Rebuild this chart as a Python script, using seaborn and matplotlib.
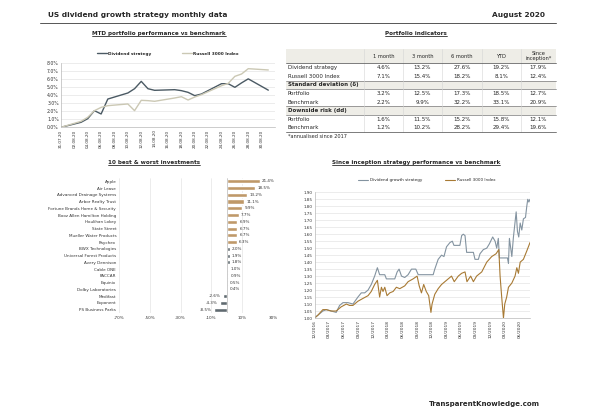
import numpy as np
import pandas as pd
import matplotlib
matplotlib.use('Agg')
import matplotlib.pyplot as plt
import matplotlib.dates as mdates
import matplotlib.ticker as mticker
from matplotlib.patches import Rectangle
import seaborn as sns

W, H = 590, 417

# ---------------- data ----------------
mtd_dates = ['2020-07-31', '2020-08-03', '2020-08-04', '2020-08-05', '2020-08-06', '2020-08-07',
             '2020-08-10', '2020-08-11', '2020-08-12', '2020-08-13', '2020-08-14', '2020-08-17',
             '2020-08-18', '2020-08-19', '2020-08-20', '2020-08-21', '2020-08-24', '2020-08-25',
             '2020-08-26', '2020-08-27', '2020-08-28', '2020-08-31']
mtd_strategy = [0.0, 0.62, 1.07, 2.06, 1.65, 3.5, 4.25, 4.78, 5.69, 4.78, 4.58, 4.66,
                4.54, 4.33, 3.92, 4.12, 5.4, 5.4, 4.95, 5.5, 6.0, 4.6]
mtd_russell = [0.0, 0.74, 1.24, 2.06, 2.47, 2.68, 2.89, 2.06, 3.34, 3.30, 3.22, 3.63,
               3.79, 3.38, 3.75, 4.04, 5.15, 5.44, 6.31, 6.6, 7.26, 7.1]

ind_cols = ['1 month', '3 month', '6 month', 'YTD', 'Since\ninception*']
ind_labels = ['Dividend strategy', 'Russell 3000 Index', 'Standard deviation (δ)', 'Portfolio',
              'Benchmark', 'Downside risk (dd)', 'Portfolio', 'Benchmark']
ind_strategy = [4.6, 13.2, 27.6, 19.2, 17.9]
ind_russell = [7.1, 15.4, 18.2, 8.1, 12.4]
ind_sd_portfolio = [3.2, 12.5, 17.3, 18.5, 12.7]
ind_sd_benchmark = [2.2, 9.9, 32.2, 33.1, 20.9]
ind_dd_portfolio = [1.6, 11.5, 15.2, 15.8, 12.1]
ind_dd_benchmark = [1.2, 10.2, 28.2, 29.4, 19.6]
ind_values = [ind_strategy, ind_russell, None, ind_sd_portfolio, ind_sd_benchmark,
              None, ind_dd_portfolio, ind_dd_benchmark]

bar_names = ['Apple', 'Air Lease', 'Advanced Drainage Systems', 'Arbor Realty Trust',
             'Fortune Brands Home & Security', 'Booz Allen Hamilton Holding', 'Houlihan Lokey',
             'State Street', 'Mueller Water Products', 'Paychex', 'BWX Technologies',
             'Universal Forest Products', 'Avery Dennison', 'Cable ONE', 'PACCAR', 'Equinix',
             'Dolby Laboratories', 'Medifast', 'Exponent', 'PS Business Parks']
bar_returns = [21.4, 18.5, 13.2, 11.1, 9.9, 7.7, 6.9, 6.7, 6.7, 6.3, 2.0, 1.9, 1.8, 1.0,
               0.9, 0.5, 0.4, -2.6, -4.3, -8.5]
bar_group = ['best'] * 10 + ['rest'] * 10

si_strategy_dates = ['2016-12-30', '2017-01-20', '2017-02-20', '2017-03-13', '2017-04-13', '2017-05-14',
                     '2017-06-04', '2017-06-25', '2017-07-26', '2017-08-26', '2017-09-26', '2017-10-17',
                     '2017-11-07', '2017-11-28', '2017-12-18', '2018-01-08', '2018-01-25', '2018-02-08',
                     '2018-03-12', '2018-03-22', '2018-05-13', '2018-05-28', '2018-06-09', '2018-06-24',
                     '2018-07-14', '2018-08-04', '2018-08-25', '2018-09-21', '2018-10-06', '2019-01-07',
                     '2019-01-17', '2019-02-07', '2019-02-28', '2019-03-15', '2019-03-31', '2019-04-21',
                     '2019-05-06', '2019-05-16', '2019-06-22', '2019-07-03', '2019-07-13', '2019-07-24',
                     '2019-08-03', '2019-09-14', '2019-09-24', '2019-10-15', '2019-10-25', '2019-11-15',
                     '2019-12-06', '2019-12-22', '2020-01-12', '2020-01-27', '2020-02-06', '2020-02-16',
                     '2020-02-23', '2020-04-13', '2020-04-19', '2020-04-25', '2020-05-10', '2020-05-20',
                     '2020-06-06', '2020-06-14', '2020-06-22', '2020-07-01', '2020-07-11', '2020-07-21',
                     '2020-08-03', '2020-08-11', '2020-08-17', '2020-08-24', '2020-08-31']
si_strategy = [1.00, 1.02, 1.05, 1.06, 1.05, 1.04, 1.09, 1.11, 1.11, 1.10, 1.15, 1.18,
               1.18, 1.20, 1.24, 1.30, 1.36, 1.31, 1.31, 1.28, 1.28, 1.33, 1.35, 1.30,
               1.29, 1.31, 1.35, 1.35, 1.31, 1.31, 1.35, 1.42, 1.45, 1.44, 1.51, 1.54,
               1.55, 1.52, 1.52, 1.59, 1.60, 1.59, 1.47, 1.47, 1.42, 1.42, 1.46, 1.49,
               1.50, 1.53, 1.58, 1.55, 1.50, 1.57, 1.43, 1.43, 1.39, 1.57, 1.44, 1.58,
               1.76, 1.62, 1.58, 1.68, 1.63, 1.71, 1.72, 1.80, 1.85, 1.83, 1.85]

si_russell_dates = ['2016-12-30', '2017-01-20', '2017-02-20', '2017-03-13', '2017-04-13', '2017-05-14',
                    '2017-06-14', '2017-07-16', '2017-08-05', '2017-08-26', '2017-09-26', '2017-10-27',
                    '2017-11-28', '2017-12-18', '2018-01-08', '2018-01-25', '2018-02-08', '2018-02-19',
                    '2018-03-01', '2018-03-12', '2018-03-26', '2018-04-12', '2018-05-03', '2018-05-23',
                    '2018-06-13', '2018-07-14', '2018-08-04', '2018-09-04', '2018-09-29', '2018-10-12',
                    '2018-10-26', '2018-11-09', '2018-11-25', '2018-12-10', '2018-12-24', '2018-12-31',
                    '2019-01-17', '2019-02-07', '2019-02-28', '2019-03-31', '2019-05-01', '2019-05-18',
                    '2019-06-12', '2019-07-03', '2019-07-24', '2019-08-05', '2019-08-28', '2019-09-14',
                    '2019-10-04', '2019-11-05', '2019-12-06', '2020-01-06', '2020-02-02', '2020-02-19',
                    '2020-02-27', '2020-03-08', '2020-03-19', '2020-03-27', '2020-04-08', '2020-04-19',
                    '2020-05-10', '2020-05-30', '2020-06-10', '2020-06-20', '2020-07-01', '2020-07-21',
                    '2020-08-11', '2020-08-31']
si_russell = [1.00, 1.02, 1.06, 1.06, 1.05, 1.05, 1.08, 1.10, 1.09, 1.09, 1.12, 1.14,
              1.16, 1.19, 1.24, 1.27, 1.15, 1.22, 1.19, 1.22, 1.16, 1.18, 1.19, 1.22,
              1.21, 1.23, 1.26, 1.28, 1.30, 1.23, 1.18, 1.24, 1.19, 1.16, 1.04, 1.10,
              1.17, 1.21, 1.24, 1.27, 1.30, 1.26, 1.30, 1.32, 1.33, 1.26, 1.30, 1.26,
              1.30, 1.33, 1.40, 1.44, 1.46, 1.49, 1.30, 1.15, 1.00, 1.10, 1.15, 1.22,
              1.25, 1.30, 1.36, 1.32, 1.40, 1.42, 1.48, 1.54]

# ---------------- style ----------------
sns.set_style('white')
plt.rcParams['font.family'] = ['DejaVu Sans']

DARK = '#4b5a64'
LIGHT = '#cbc8b4'
SI_GREY = '#8393a0'
SI_BROWN = '#a87a34'
TAN = '#cd9a5b'
SLATE = '#5d6a73'
GRID = '#dedede'
AXC = '#b8b8b8'
SHADE = '#eeede7'

fig = plt.figure(figsize=(W / 100, H / 100), dpi=100)

cv = fig.add_axes([0, 0, 1, 1])
cv.set_xlim(0, W)
cv.set_ylim(H, 0)
cv.axis('off')


def px_axes(l, t, r, b):
    return fig.add_axes([l / W, 1 - b / H, (r - l) / W, (b - t) / H])


def clean(ax):
    for s in ['top', 'right']:
        ax.spines[s].set_visible(False)
    for s in ['left', 'bottom']:
        ax.spines[s].set_color(AXC)
        ax.spines[s].set_linewidth(0.5)
    ax.tick_params(length=0, pad=1.5, colors='#333333')


# header
cv.text(48, 15, 'US dividend growth strategy monthly data', fontsize=5.3, fontweight='bold', va='center')
cv.text(545, 15, 'August 2020', fontsize=5.3, fontweight='bold', va='center', ha='right')
cv.plot([40, 556], [23, 23], color='#555555', lw=0.7)
cv.text(540, 404, 'TransparentKnowledge.com', fontsize=5, fontweight='bold', va='center', ha='right')

titles = []
for (tx, ty, s) in [(159, 33, 'MTD portfolio performance vs benchmark'),
                    (416, 33, 'Portfolio indicators'),
                    (154, 162.5, '10 best & worst investments'),
                    (416, 162, 'Since inception strategy performance vs benchmark')]:
    titles.append(cv.text(tx, ty, s, fontsize=4.1, fontweight='bold', ha='center', va='center'))

# ---------------- MTD chart ----------------
ax1 = px_axes(61, 62.7, 275, 127.3)
mtd = pd.DataFrame({'date': pd.to_datetime(mtd_dates), 'strategy': mtd_strategy, 'russell': mtd_russell})
sns.lineplot(data=mtd, x='date', y='strategy', ax=ax1, color=DARK, lw=1.0, label='Dividend strategy')
sns.lineplot(data=mtd, x='date', y='russell', ax=ax1, color=LIGHT, lw=1.0, label='Russell 3000 Index')
ax1.set_ylim(0, 8)
ax1.set_yticks(np.arange(0, 9, 1))
ax1.yaxis.set_major_formatter(mticker.FuncFormatter(lambda v, p: f'{v:.1f}%'))
ax1.set_xlim(pd.Timestamp('2020-07-31'), pd.Timestamp('2020-09-01'))
ax1.set_xticks(pd.date_range('2020-07-31', '2020-08-30', freq='2D'))
ax1.xaxis.set_major_formatter(mdates.DateFormatter('%d.%m.%y'))
ax1.tick_params(axis='x', labelrotation=90, labelsize=3)
ax1.tick_params(axis='y', labelsize=3.3)
ax1.grid(axis='y', color=GRID, lw=0.4)
ax1.set_xlabel('')
ax1.set_ylabel('')
clean(ax1)
ax1.legend(loc='lower center', bbox_to_anchor=(0.5, 1.05), ncol=2, frameon=False,
           handlelength=2.3, handletextpad=0.3, columnspacing=7,
           prop={'size': 3.1, 'weight': 'bold'})

# ---------------- table ----------------
col_edges = [286, 364, 403, 442, 482, 521, 556]
hdr_top, hdr_bot = 49, 63.3
row_h = 8.6
TFS = 4.0
cv.add_patch(Rectangle((col_edges[0], hdr_top), col_edges[-1] - col_edges[0], hdr_bot - hdr_top,
                       color=SHADE, lw=0))
for i, lab in enumerate(ind_cols):
    cx = (col_edges[i + 1] + col_edges[i + 2]) / 2
    cv.text(cx, (hdr_top + hdr_bot) / 2, lab, ha='center', va='center', fontsize=3.7, linespacing=1.05)

for j, (lab, vals) in enumerate(zip(ind_labels, ind_values)):
    top = hdr_bot + row_h * j
    yc = top + row_h / 2
    if vals is None:
        cv.add_patch(Rectangle((col_edges[0], top), col_edges[-1] - col_edges[0], row_h,
                               color=SHADE, lw=0))
        cv.text(288, yc, lab, fontsize=TFS, fontweight='bold', va='center')
        cv.plot([col_edges[0], col_edges[-1]], [top, top], color='#777777', lw=0.5)
        cv.plot([col_edges[0], col_edges[-1]], [top + row_h, top + row_h], color='#777777', lw=0.5)
    else:
        cv.text(288, yc, lab, fontsize=TFS, va='center')
        for i, v in enumerate(vals):
            cx = (col_edges[i + 1] + col_edges[i + 2]) / 2
            cv.text(cx, yc, f'{v:.1f}%', fontsize=TFS, ha='center', va='center')

tbl_bot = hdr_bot + row_h * len(ind_labels)
for x in col_edges[1:-1]:
    cv.plot([x, x], [hdr_top, tbl_bot], color='#d4d4d4', lw=0.4)
cv.plot([col_edges[0], col_edges[-1]], [hdr_bot, hdr_bot], color='#666666', lw=0.6)
cv.plot([col_edges[0], col_edges[-1]], [tbl_bot, tbl_bot], color='#666666', lw=0.6)
cv.text(288, tbl_bot + 4.3, '*annualised since 2017', fontsize=3.6, va='center')

# ---------------- best / worst bars ----------------
ax2 = px_axes(119, 177.9, 273, 313.1)
bars = pd.DataFrame({'name': bar_names, 'ret': bar_returns, 'group': bar_group})
sns.barplot(data=bars, x='ret', y='name', hue='group', palette={'best': TAN, 'rest': SLATE},
            dodge=False, legend=False, width=0.62, orient='h', ax=ax2)
ax2.set_xlim(-70, 30)
ax2.set_xticks([-70, -50, -30, -10, 10, 30])
ax2.set_xticklabels([f'{t}%' for t in [-70, -50, -30, -10, 10, 30]])
ax2.grid(axis='x', color=GRID, lw=0.4)
ax2.set_axisbelow(True)
ax2.axvline(0, color=AXC, lw=0.5)
for s in ax2.spines.values():
    s.set_visible(False)
ax2.tick_params(length=0, pad=2, colors='#333333')
ax2.tick_params(axis='y', labelsize=3.0)
ax2.tick_params(axis='x', labelsize=3.0)
ax2.set_xlabel('')
ax2.set_ylabel('')
for k, v in enumerate(bar_returns):
    if v >= 0:
        ax2.text(v + 1.5, k, f'{v:.1f}%', fontsize=3.0, va='center', ha='left', color='#333333')
    else:
        ax2.text(v - 1.5, k, f'{v:.1f}%', fontsize=3.0, va='center', ha='right', color='#333333')

# ---------------- since inception ----------------
ax3 = px_axes(314.5, 192.3, 530, 318.0)
si_s = pd.DataFrame({'date': pd.to_datetime(si_strategy_dates), 'value': si_strategy})
si_r = pd.DataFrame({'date': pd.to_datetime(si_russell_dates), 'value': si_russell})
sns.lineplot(data=si_s, x='date', y='value', ax=ax3, color=SI_GREY, lw=0.8, label='Dividend growth strategy')
sns.lineplot(data=si_r, x='date', y='value', ax=ax3, color=SI_BROWN, lw=0.8, label='Russell 3000 Index')
ax3.set_ylim(1.0, 1.9)
ax3.set_yticks(np.arange(1.0, 1.901, 0.05))
ax3.yaxis.set_major_formatter(mticker.FormatStrFormatter('%.2f'))
ax3.set_xlim(pd.Timestamp('2016-12-30'), pd.Timestamp('2020-08-31'))
ax3.xaxis.set_major_locator(mdates.MonthLocator(bymonth=(3, 6, 9, 12), bymonthday=30))
ax3.xaxis.set_major_formatter(mdates.DateFormatter('%m/%Y'))
ax3.tick_params(axis='x', labelrotation=90, labelsize=3.2)
ax3.tick_params(axis='y', labelsize=3.0)
ax3.grid(axis='y', color=GRID, lw=0.4)
ax3.set_xlabel('')
ax3.set_ylabel('')
clean(ax3)
ax3.legend(loc='lower center', bbox_to_anchor=(0.52, 1.05), ncol=2, frameon=False,
           handlelength=2.4, handletextpad=0.4, columnspacing=5.5, prop={'size': 3.0})

# underline section titles
fig.canvas.draw()
rend = fig.canvas.get_renderer()
inv = cv.transData.inverted()
for t in titles:
    bb = t.get_window_extent(rend)
    (x0, y0), (x1, y1) = inv.transform([[bb.x0, bb.y0], [bb.x1, bb.y1]])
    cv.plot([x0, x1], [y0 + 0.3, y0 + 0.3], color='black', lw=0.5)

fig.savefig('out.png', dpi=100)
